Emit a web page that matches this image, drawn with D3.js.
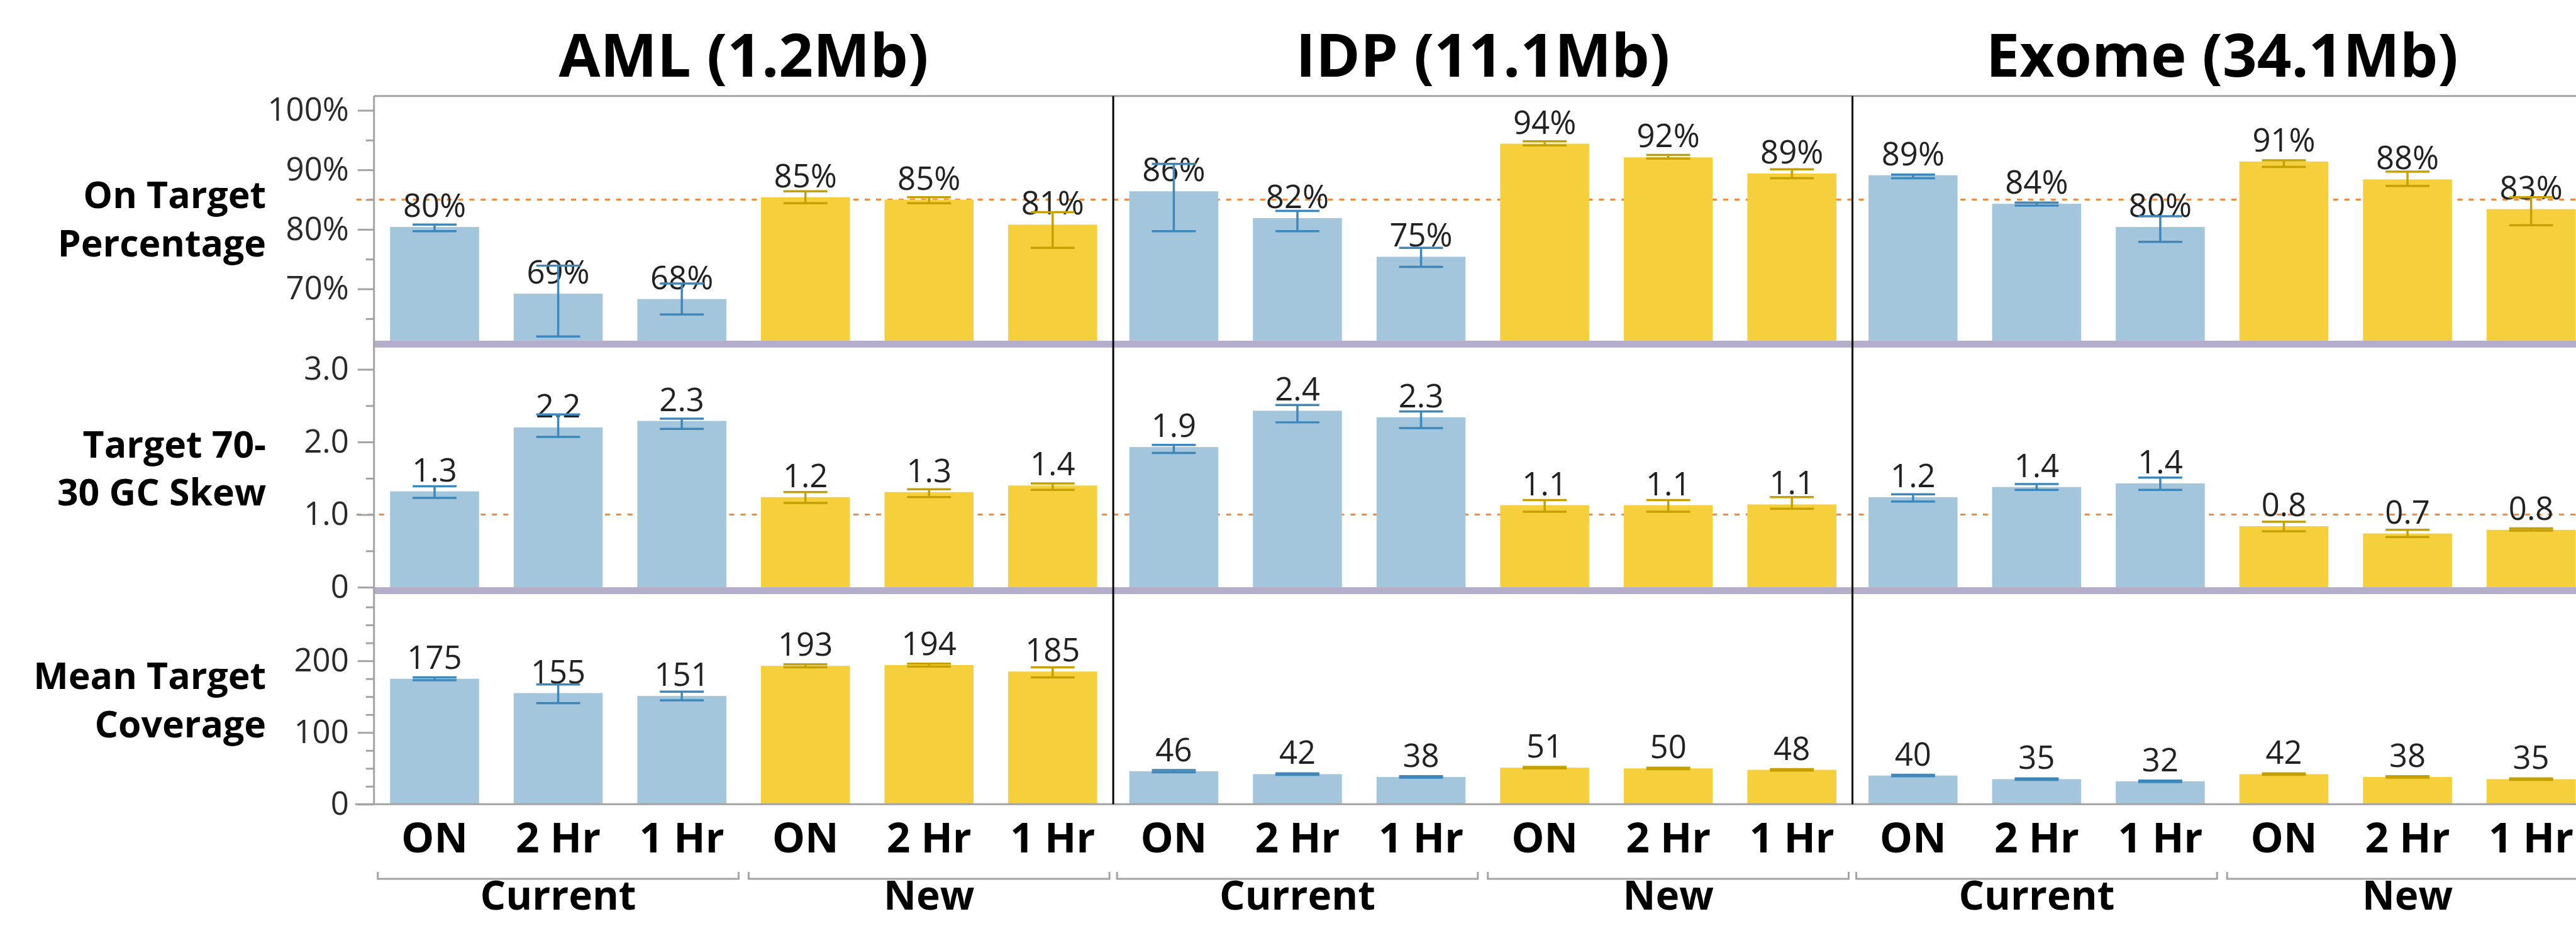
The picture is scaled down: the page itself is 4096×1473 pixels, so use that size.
<!DOCTYPE html>
<html>
<head>
<meta charset="utf-8">
<script src="https://cdn.jsdelivr.net/npm/d3@7"></script>
<style>
  html, body { margin: 0; padding: 0; background: #fff; }
  svg { display: block; font-family: "Open Sans", "Noto Sans", sans-serif; }
</style>
</head>
<body>
<script>
// panels, groups and times
const panels = ["AML (1.2Mb)", "IDP (11.1Mb)", "Exome (34.1Mb)"]
const groups = ["Current", "New"]
const times = ["ON", "2 Hr", "1 Hr"]
const rowLabels = [["On Target", "Percentage"], ["Target 70-", "30 GC Skew"], ["Mean Target", "Coverage"]]

// one value per bar: panel x group x time
const onTarget   = [80.4, 69.2, 68.3, 85.4, 85.0, 80.8,  86.4, 81.9, 75.4, 94.4, 92.1, 89.4,  89.1, 84.3, 80.4, 91.4, 88.4, 83.4]
const onTargetLo = [79.7, 62.0, 65.7, 84.4, 84.4, 76.9,  79.7, 79.7, 73.7, 94.1, 91.9, 88.6,  88.6, 84.0, 77.9, 90.5, 87.3, 80.7]
const onTargetHi = [80.8, 73.9, 70.9, 86.4, 85.4, 82.9,  91.0, 83.1, 76.9, 94.8, 92.5, 90.1,  89.2, 84.5, 82.2, 91.6, 89.7, 85.4]

const gcSkew   = [1.32, 2.20, 2.29, 1.24, 1.31, 1.40,  1.93, 2.43, 2.34, 1.13, 1.13, 1.14,  1.24, 1.38, 1.43, 0.84, 0.74, 0.79]
const gcSkewLo = [1.23, 2.07, 2.18, 1.16, 1.24, 1.34,  1.85, 2.27, 2.19, 1.04, 1.04, 1.08,  1.18, 1.34, 1.34, 0.77, 0.69, 0.78]
const gcSkewHi = [1.39, 2.38, 2.32, 1.31, 1.35, 1.43,  1.96, 2.51, 2.42, 1.20, 1.20, 1.24,  1.28, 1.42, 1.51, 0.90, 0.79, 0.81]

const coverage   = [175, 155, 151, 193, 194, 185,  46, 42, 38, 51, 50, 48,  40, 35, 32, 42, 38, 35]
const coverageLo = [173, 141, 145, 191, 192, 177,  44.5, 41, 37, 50, 49, 47,  39, 34, 31, 41, 37, 34]
const coverageHi = [177, 167, 157, 195, 196, 191,  47.5, 43, 39, 52, 51, 49,  41, 36, 33, 43, 39, 36]

// axis ticks
const onTargetTicks = [70, 80, 90, 100]
const onTargetTickLabels = ["70%", "80%", "90%", "100%"]
const onTargetMinor = [65, 75, 85, 95]
const gcSkewTicks = [0, 1, 2, 3]
const gcSkewTickLabels = ["0", "1.0", "2.0", "3.0"]
const gcSkewMinor = [0.5, 1.5, 2.5]
const coverageTicks = [0, 100, 200]
const coverageTickLabels = ["0", "100", "200"]
const coverageMinor = [25, 50, 75, 125, 150, 175, 225, 250, 275]

let W = 4105,
    H = 1476,
    plotLeft = 596,
    colWidth = 1178,
    rowTops = [153, 554, 947],
    rowBottoms = [543, 936, 1282],
    blue = "#a4c6dd",
    yellow = "#f6d03c",
    errBlue = "#3d87bb",
    errYellow = "#c4a003",
    grey = "#a3a3a3",
    purple = "#b5aecb",
    orange = "#f5883a"

function attrs(sel, o) {
  for (let k in o) sel.attr(k, o[k])
}

let metrics = [
  {values: onTarget, lo: onTargetLo, hi: onTargetHi, domain: [61.3, 102.4], ticks: onTargetTicks,
   tickLabels: onTargetTickLabels, minor: onTargetMinor, ref: 85, fmt: d => Math.round(d) + "%"},
  {values: gcSkew, lo: gcSkewLo, hi: gcSkewHi, domain: [0, 3.3], ticks: gcSkewTicks,
   tickLabels: gcSkewTickLabels, minor: gcSkewMinor, ref: 1, fmt: d3.format(".1f")},
  {values: coverage, lo: coverageLo, hi: coverageHi, domain: [0, 293], ticks: coverageTicks,
   tickLabels: coverageTickLabels, minor: coverageMinor, ref: null, fmt: d3.format(".0f")}
]

let keys = []
groups.forEach(g => times.forEach(t => keys.push(g + "|" + t)))

let bars = []
panels.forEach((p, pi) => keys.forEach((k, ki) => {
  bars.push({panel: p, key: k, group: k.split("|")[0], time: k.split("|")[1], i: pi * keys.length + ki})
}))

let x0 = d3.scaleBand().domain(panels).range([plotLeft, plotLeft + panels.length * colWidth])
let x1 = d3.scaleBand().domain(keys).range([0, x0.bandwidth()]).paddingInner(0.28).paddingOuter(0.13)
let cx = d => x0(d.panel) + x1(d.key) + x1.bandwidth() / 2

let svg = d3.select("body").append("svg")
  .attr("width", 4096).attr("height", 1473)
  .attr("viewBox", `0 0 ${W} ${H}`)

svg.append("rect").attr("width", W).attr("height", H).attr("fill", "#fff")

// titles
svg.selectAll("text.title")
  .data(panels).enter()
  .append("text")
  .attr("class", "title")
  .attr("x", d => x0(d) + x0.bandwidth() / 2)
  .attr("y", 122)
  .attr("text-anchor", "middle")
  .attr("font-size", 96)
  .attr("font-weight", 700)
  .text(d => d)

metrics.forEach((m, r) => {
  let y = d3.scaleLinear().domain(m.domain).range([rowBottoms[r], rowTops[r]])
  let g = svg.append("g")

  // reference line sits behind the bars
  if (m.ref != null) {
    g.append("line")
      .call(attrs, {x1: plotLeft - 28, x2: W, y1: y(m.ref), y2: y(m.ref)})
      .attr("stroke", orange).attr("stroke-width", 3).attr("stroke-dasharray", "8,10")
  }

  g.selectAll("rect.bar")
    .data(bars).enter()
    .append("rect")
    .attr("x", d => x0(d.panel) + x1(d.key))
    .attr("width", x1.bandwidth())
    .attr("y", d => y(m.values[d.i]))
    .attr("height", d => rowBottoms[r] - y(m.values[d.i]))
    .attr("fill", d => d.group == "Current" ? blue : yellow)

  g.selectAll("text.val")
    .data(bars).enter()
    .append("text")
    .attr("x", cx)
    .attr("y", d => y(m.values[d.i]) - 16)
    .attr("text-anchor", "middle")
    .attr("font-size", 51)
    .attr("fill", "#222")
    .text(d => m.fmt(m.values[d.i]))

  // error bars
  let eb = g.selectAll("g.err")
    .data(bars).enter()
    .append("g")
    .attr("stroke", d => d.group == "Current" ? errBlue : errYellow)
    .attr("stroke-width", 3.5)
  eb.append("line")
    .attr("x1", cx).attr("x2", cx)
    .attr("y1", d => y(m.lo[d.i])).attr("y2", d => y(m.hi[d.i]))
  eb.append("line")
    .attr("x1", d => cx(d) - 35).attr("x2", d => cx(d) + 35)
    .attr("y1", d => y(m.lo[d.i])).attr("y2", d => y(m.lo[d.i]))
  eb.append("line")
    .attr("x1", d => cx(d) - 35).attr("x2", d => cx(d) + 35)
    .attr("y1", d => y(m.hi[d.i])).attr("y2", d => y(m.hi[d.i]))

  // row separator / bottom axis
  if (r < metrics.length - 1) {
    g.append("rect")
      .call(attrs, {x: plotLeft, y: rowBottoms[r], width: W - plotLeft, height: 11})
      .attr("fill", purple)
  } else {
    g.append("line")
      .call(attrs, {x1: plotLeft - 30, x2: W, y1: rowBottoms[r], y2: rowBottoms[r]})
      .attr("stroke", grey).attr("stroke-width", 3)
  }

  // axis: minor ticks, then major ticks with labels
  let minorAxis = d3.axisLeft(y).tickValues(m.minor).tickSize(13).tickFormat("")
  let majorAxis = d3.axisLeft(y).tickValues(m.ticks).tickSize(26).tickPadding(14)
    .tickFormat((d, i) => m.tickLabels[i])
  let ga = g.append("g").attr("transform", `translate(${plotLeft},0)`)
  ga.call(minorAxis)
  let gb = g.append("g").attr("transform", `translate(${plotLeft},0)`)
  gb.call(majorAxis)
  ga.select(".domain").remove()
  gb.select(".domain").remove()
  g.selectAll(".tick line").attr("stroke", grey).attr("stroke-width", 3)
  gb.selectAll(".tick text")
    .attr("font-size", 51)
    .attr("font-family", "Open Sans, sans-serif")
    .attr("fill", "#2a2a2a")

  // row label
  svg.append("text")
    .attr("x", 424)
    .attr("text-anchor", "end")
    .attr("font-size", 59)
    .attr("font-weight", 700)
    .selectAll("tspan")
    .data(rowLabels[r]).enter()
    .append("tspan")
    .attr("x", 424)
    .attr("y", (d, i) => (rowTops[r] + rowBottoms[r]) / 2 - 16 + i * 77)
    .text(d => d)
})

// frame
svg.append("line")
  .call(attrs, {x1: plotLeft, x2: W, y1: rowTops[0], y2: rowTops[0]})
  .attr("stroke", grey).attr("stroke-width", 3)
svg.append("line")
  .call(attrs, {x1: plotLeft, x2: plotLeft, y1: rowTops[0], y2: rowBottoms[2]})
  .attr("stroke", grey).attr("stroke-width", 3)
svg.selectAll("line.divider")
  .data(panels.slice(1)).enter()
  .append("line")
  .attr("x1", d => x0(d)).attr("x2", d => x0(d))
  .attr("y1", rowTops[0]).attr("y2", rowBottoms[2])
  .attr("stroke", "#000").attr("stroke-width", 3)

// x tick labels
svg.selectAll("text.xlab")
  .data(bars).enter()
  .append("text")
  .attr("x", cx)
  .attr("y", 1359)
  .attr("text-anchor", "middle")
  .attr("font-size", 66)
  .attr("font-weight", 700)
  .text(d => d.time)

// group brackets
let groupSpans = []
panels.forEach(p => groups.forEach(gr => {
  let ks = keys.filter(k => k.startsWith(gr + "|"))
  let left = x0(p) + x1(ks[0]) + x1.bandwidth() / 2 - x1.step() / 2 + 8
  let right = x0(p) + x1(ks[ks.length - 1]) + x1.bandwidth() / 2 + x1.step() / 2 - 8
  groupSpans.push({name: gr, left: left, right: right})
}))

svg.selectAll("path.bracket")
  .data(groupSpans).enter()
  .append("path")
  .attr("d", d => `M${d.left},1390V1401H${d.right}V1390`)
  .attr("fill", "none")
  .attr("stroke", grey).attr("stroke-width", 3)

svg.selectAll("text.group")
  .data(groupSpans).enter()
  .append("text")
  .attr("x", d => (d.left + d.right) / 2)
  .attr("y", 1450)
  .attr("text-anchor", "middle")
  .attr("font-size", 64)
  .attr("font-weight", 700)
  .text(d => d.name)
</script>
</body>
</html>
